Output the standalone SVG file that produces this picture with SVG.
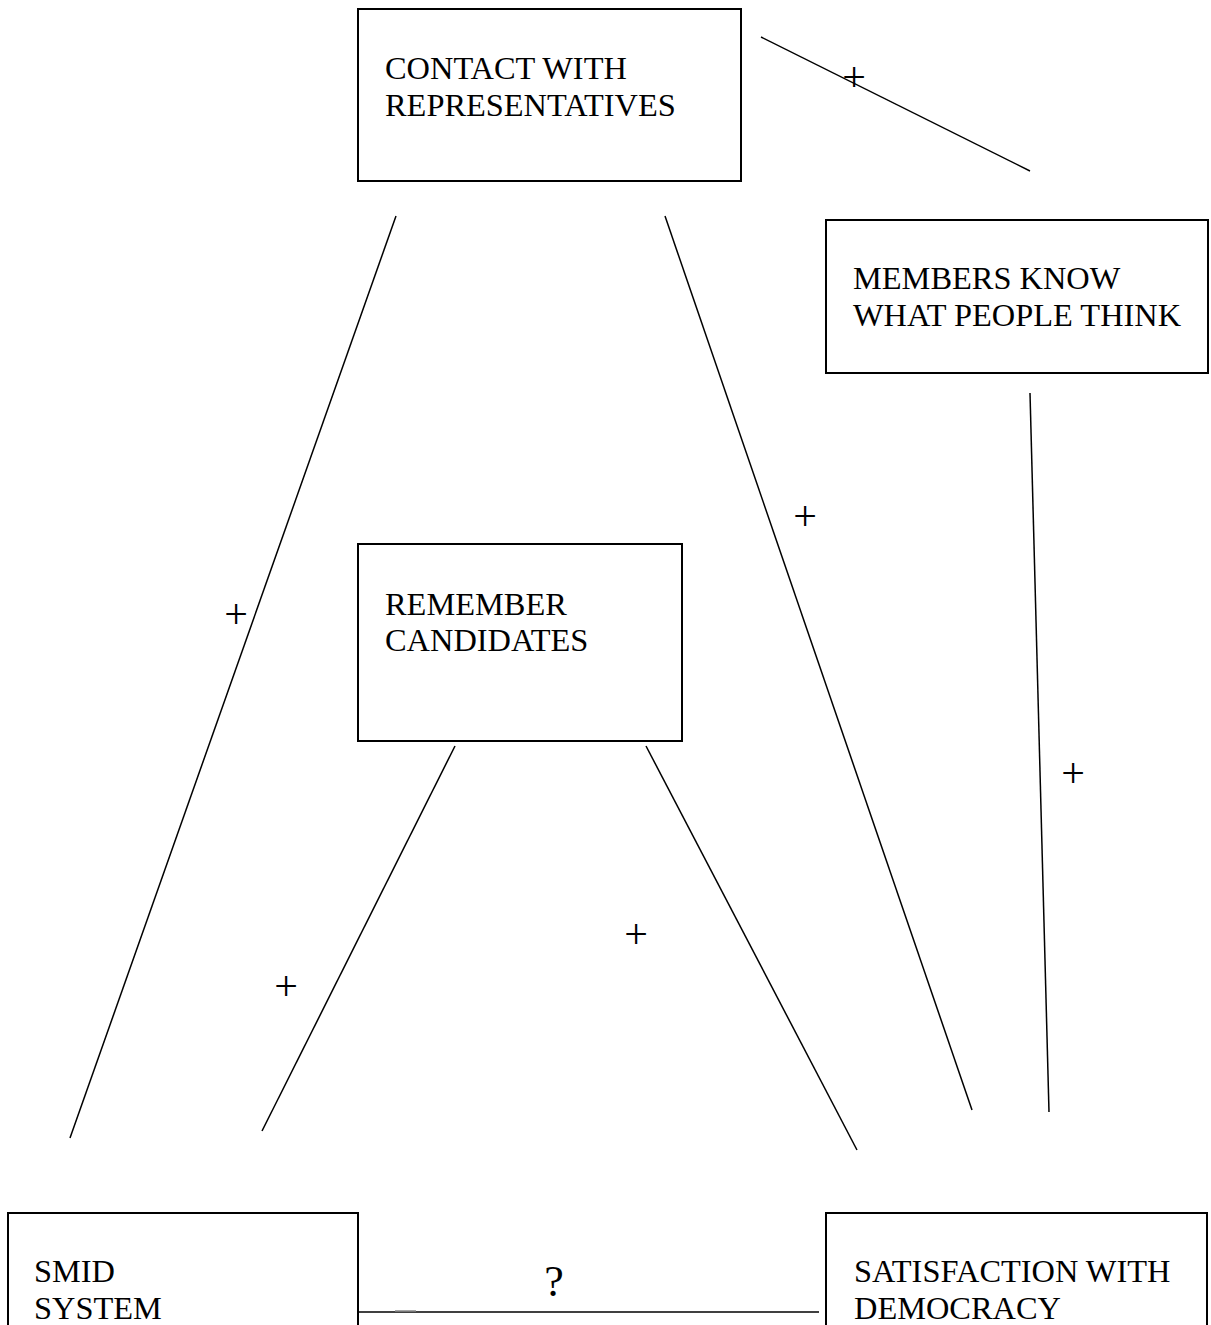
<svg xmlns="http://www.w3.org/2000/svg" width="1211" height="1325" viewBox="0 0 1211 1325">
<style>
.box{fill:#fff;stroke:#000;stroke-width:2}
.lbl{font-family:"Liberation Serif","Times New Roman",serif;font-size:32.4px;fill:#000}
.sign{font-family:"Liberation Serif","Times New Roman",serif;font-size:42px;fill:#000;text-anchor:middle}
.edge{stroke:#000;stroke-width:1.5;fill:none}
</style>
<rect width="1211" height="1325" fill="#fff"/>
<g id="connectors">
<line class="edge" x1="761" y1="37" x2="1030" y2="171"/>
<line class="edge" x1="396" y1="216" x2="70" y2="1138"/>
<line class="edge" x1="665" y1="216" x2="972" y2="1110"/>
<line class="edge" x1="1030" y1="393" x2="1049" y2="1112"/>
<line class="edge" x1="455" y1="746" x2="262" y2="1131"/>
<line class="edge" x1="646" y1="746" x2="857" y2="1150"/>
<line class="edge" x1="358" y1="1312" x2="819" y2="1312"/>
<line x1="395" y1="1311" x2="416" y2="1311" stroke="#888" stroke-width="1.5"/>
<text class="sign" x="854" y="91">+</text>
<text class="sign" x="236" y="628">+</text>
<text class="sign" x="805" y="530">+</text>
<text class="sign" x="1073" y="787">+</text>
<text class="sign" x="636" y="948">+</text>
<text class="sign" x="286" y="1000">+</text>
<text class="sign" x="554" y="1296" style="font-size:44px">?</text>
</g>
<g id="contact">
<rect class="box" x="358" y="9" width="383" height="172"/>
<text class="lbl" x="385" y="79">CONTACT WITH</text>
<text class="lbl" x="385" y="116">REPRESENTATIVES</text>
</g>
<g id="members">
<rect class="box" x="826" y="220" width="382" height="153"/>
<text class="lbl" x="853" y="289">MEMBERS KNOW</text>
<text class="lbl" x="853" y="326">WHAT PEOPLE THINK</text>
</g>
<g id="remember">
<rect class="box" x="358" y="544" width="324" height="197"/>
<text class="lbl" x="385" y="615">REMEMBER</text>
<text class="lbl" x="385" y="651">CANDIDATES</text>
</g>
<g id="smid">
<rect class="box" x="8" y="1213" width="350" height="130"/>
<text class="lbl" x="34" y="1282">SMID</text>
<text class="lbl" x="34" y="1319">SYSTEM</text>
</g>
<g id="satisfaction">
<rect class="box" x="826" y="1213" width="381" height="130"/>
<text class="lbl" x="854" y="1282">SATISFACTION WITH</text>
<text class="lbl" x="854" y="1319">DEMOCRACY</text>
</g>
</svg>
